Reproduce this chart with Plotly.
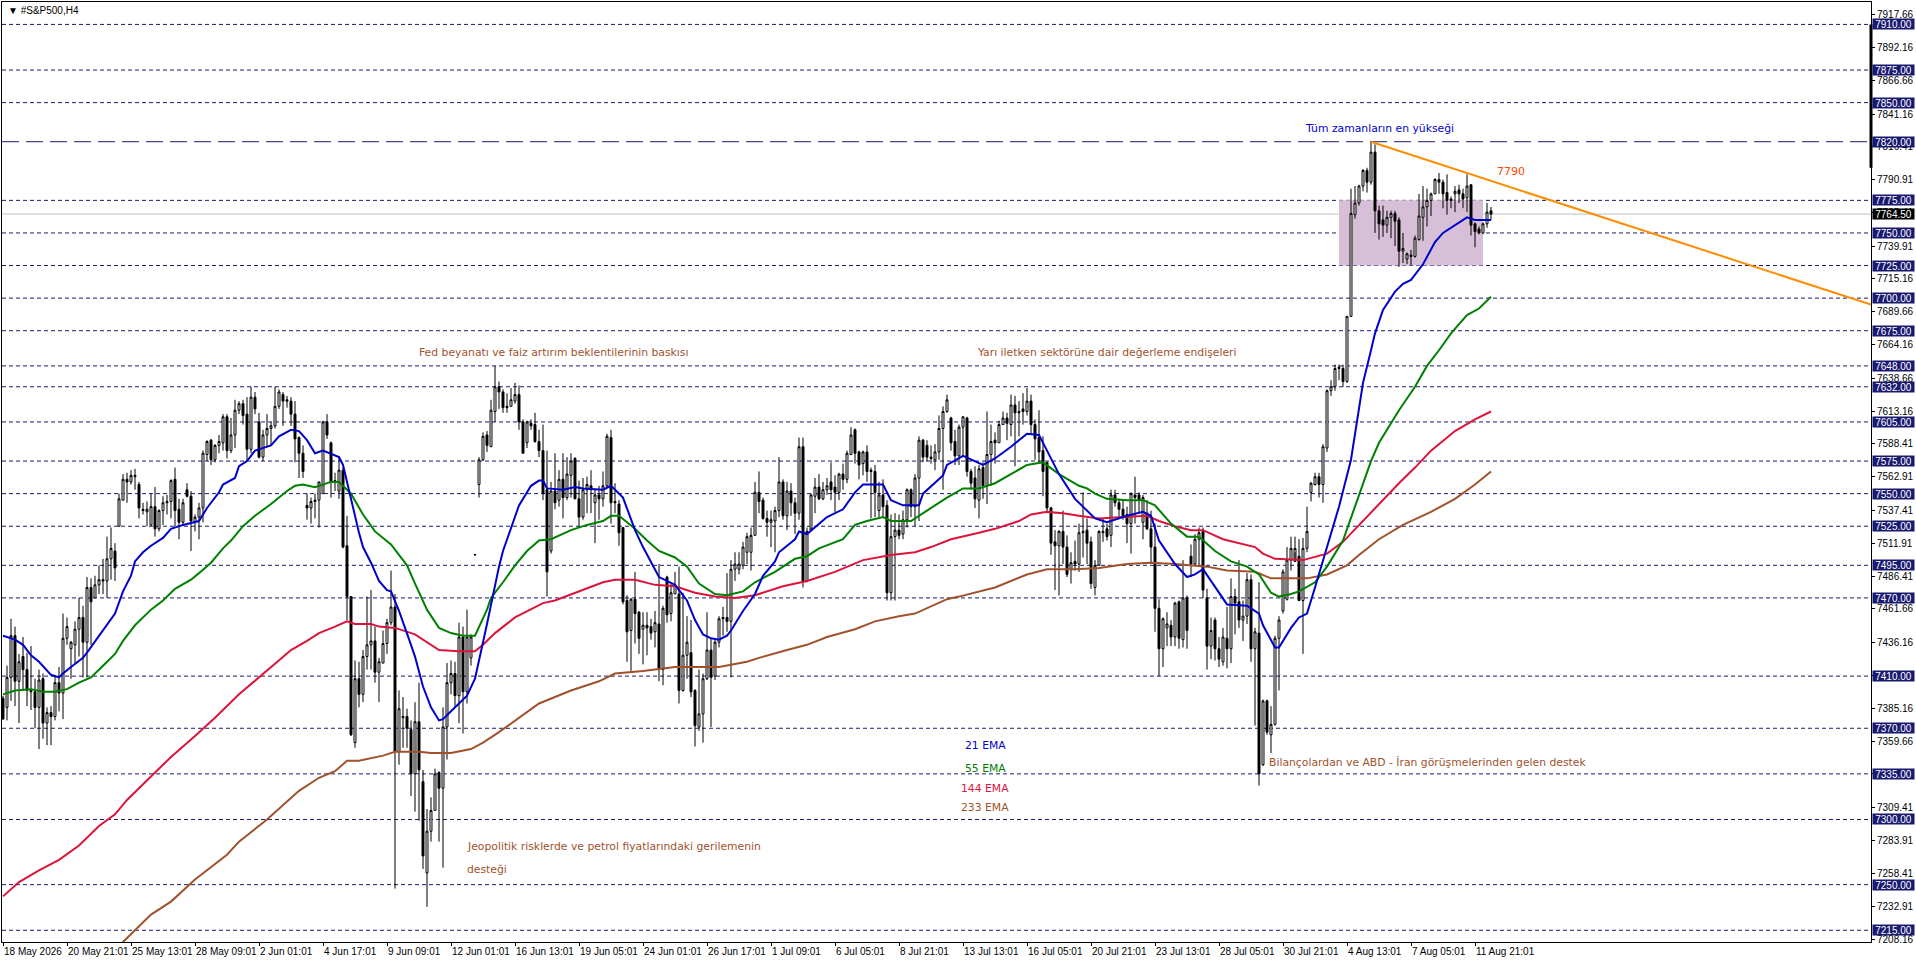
import plotly.graph_objs as go

# fiyat verisi (H4 mum)
open_ = [
    7393, 7386, 7409, 7441, 7406, 7425, 7415, 7399, 7398, 7386, 7408, 7374, 7382, 7379, 7405, 7397,
    7439, 7431, 7434, 7446, 7455, 7436, 7478, 7470, 7480, 7484, 7483, 7500, 7506, 7525, 7545, 7561,
    7559, 7563, 7557, 7538, 7536, 7526, 7540, 7523, 7537, 7543, 7544, 7561, 7538, 7528, 7553, 7548,
    7528, 7532, 7539, 7580, 7591, 7576, 7587, 7589, 7609, 7583, 7595, 7614, 7619, 7611, 7584, 7624,
    7605, 7578, 7595, 7600, 7602, 7617, 7626, 7622, 7621, 7611, 7593, 7581, 7541, 7539, 7544, 7545,
    7550, 7605, 7589, 7559, 7552, 7568, 7510, 7471, 7359, 7408, 7396, 7425, 7434, 7437, 7413, 7420,
    7435, 7451, 7463, 7352, 7378, 7379, 7369, 7335, 7375, 7329, 7259, 7291, 7307, 7336, 7324, 7371,
    7405, 7412, 7395, 7440, 7398, 7424, 7503, 7557, 7576, 7595, 7586, 7613, 7632, 7628, 7617, 7617,
    7621, 7626, 7605, 7589, 7604, 7603, 7590, 7583, 7553, 7506, 7552, 7545, 7561, 7547, 7564, 7577,
    7546, 7532, 7553, 7556, 7543, 7549, 7546, 7556, 7593, 7544, 7542, 7524, 7468, 7445, 7469, 7459,
    7446, 7449, 7448, 7444, 7450, 7415, 7486, 7458, 7473, 7473, 7399, 7426, 7428, 7399, 7371, 7381,
    7408, 7430, 7410, 7436, 7455, 7455, 7452, 7492, 7492, 7495, 7505, 7505, 7518, 7551, 7545, 7531,
    7528, 7529, 7537, 7559, 7533, 7552, 7543, 7535, 7586, 7483, 7522, 7548, 7555, 7546, 7553, 7559,
    7555, 7551, 7565, 7561, 7580, 7599, 7582, 7573, 7582, 7568, 7567, 7537, 7549, 7541, 7474, 7517,
    7522, 7519, 7530, 7553, 7540, 7562, 7591, 7587, 7577, 7576, 7582, 7600, 7613, 7608, 7590, 7579,
    7601, 7608, 7567, 7562, 7545, 7570, 7556, 7580, 7591, 7589, 7603, 7608, 7603, 7618, 7613, 7615,
    7613, 7621, 7603, 7593, 7583, 7574, 7539, 7513, 7510, 7521, 7509, 7492, 7498, 7496, 7520, 7522,
    7513, 7478, 7495, 7520, 7523, 7518, 7549, 7543, 7538, 7534, 7527, 7549, 7549, 7528, 7535, 7523,
    7509, 7462, 7431, 7447, 7449, 7440, 7467, 7438, 7470, 7502, 7496, 7515, 7521, 7470, 7433, 7453,
    7431, 7421, 7439, 7431, 7471, 7467, 7453, 7456, 7484, 7431, 7443, 7342, 7391, 7365, 7373, 7439,
    7460, 7469, 7499, 7498, 7502, 7468, 7508, 7551, 7557, 7563, 7557, 7585, 7629, 7632, 7647, 7646,
    7636, 7686, 7764, 7773, 7786, 7798, 7789, 7812, 7767, 7760, 7756, 7762, 7765, 7760, 7736, 7730,
    7733, 7732, 7745, 7762, 7770, 7775, 7780, 7791, 7789, 7781, 7776, 7780, 7783, 7780, 7777, 7787,
    7757, 7753, 7750, 7757, 7767,
]
high = [
    7395, 7418, 7454, 7448, 7427, 7440, 7428, 7433, 7408, 7415, 7412, 7386, 7387, 7411, 7417, 7458,
    7455, 7437, 7452, 7470, 7464, 7486, 7485, 7487, 7495, 7500, 7517, 7524, 7512, 7550, 7565, 7566,
    7568, 7569, 7559, 7543, 7544, 7550, 7555, 7538, 7548, 7549, 7561, 7570, 7546, 7546, 7558, 7552,
    7534, 7543, 7583, 7591, 7592, 7588, 7595, 7611, 7611, 7608, 7622, 7621, 7622, 7624, 7632, 7628,
    7612, 7599, 7611, 7605, 7632, 7630, 7628, 7625, 7624, 7621, 7594, 7587, 7550, 7547, 7550, 7559,
    7606, 7611, 7590, 7566, 7578, 7570, 7533, 7471, 7422, 7421, 7430, 7471, 7476, 7448, 7424, 7445,
    7454, 7491, 7473, 7399, 7394, 7385, 7376, 7390, 7405, 7338, 7308, 7317, 7339, 7337, 7386, 7420,
    7422, 7421, 7451, 7448, 7461, 7442, 7503.5, 7578, 7597, 7598, 7622, 7648, 7636, 7630, 7627, 7631,
    7635, 7633, 7607, 7606, 7607, 7612, 7599, 7603, 7583, 7559, 7581, 7568, 7581, 7578, 7581, 7578,
    7560, 7562, 7563, 7568, 7553, 7556, 7567, 7596, 7599, 7558, 7545, 7524, 7472, 7470, 7490, 7460,
    7459, 7459, 7454, 7460, 7496, 7464, 7487, 7482, 7490, 7494, 7474, 7456, 7453, 7400, 7415, 7412,
    7459, 7439, 7439, 7456, 7463, 7489, 7499, 7505, 7505, 7513, 7520, 7524, 7559, 7567, 7547, 7537,
    7537, 7540, 7578, 7561, 7559, 7558, 7547, 7593, 7593, 7524, 7550, 7562, 7565, 7559, 7562, 7574,
    7564, 7566, 7573, 7583, 7601, 7600, 7583, 7583, 7587, 7570, 7572, 7559, 7561, 7545, 7534, 7535,
    7534, 7537, 7554, 7554, 7565, 7594, 7592, 7591, 7587, 7588, 7610, 7617, 7626, 7609, 7599, 7603,
    7609, 7609, 7569, 7571, 7572, 7574, 7613, 7603, 7597, 7606, 7613, 7612, 7626, 7625, 7621, 7627,
    7631, 7626, 7607, 7614, 7594, 7574, 7540, 7522, 7522, 7537, 7518, 7505, 7514, 7527, 7551, 7531,
    7517, 7499, 7522, 7531, 7527, 7553, 7553, 7546, 7545, 7540, 7551, 7563, 7551, 7549, 7545, 7537,
    7527, 7469, 7455, 7459, 7453, 7467, 7468, 7499, 7472, 7511, 7519, 7524, 7524, 7477, 7455, 7455,
    7440, 7447, 7463, 7485, 7477, 7499, 7468, 7489, 7488, 7447, 7482, 7392, 7392, 7387, 7441, 7456,
    7492, 7509, 7517, 7517, 7515, 7516, 7540, 7559, 7566, 7566, 7588, 7630, 7637, 7649, 7649, 7649,
    7686, 7784, 7786, 7787, 7799, 7800, 7819.5, 7818, 7771, 7771, 7767, 7767, 7767, 7762, 7750, 7735,
    7737, 7748, 7780, 7786, 7784, 7781, 7792, 7796, 7791, 7795, 7778, 7786, 7787, 7784, 7795, 7787,
    7758, 7755, 7758, 7773, 7770,
]
low = [
    7377, 7376, 7391, 7387, 7374, 7399, 7387, 7384, 7370, 7354, 7362, 7357, 7357, 7376, 7383, 7377,
    7434, 7408, 7420, 7425, 7409, 7409, 7434, 7470, 7473, 7473, 7470, 7484, 7483, 7525, 7545, 7543,
    7557, 7553, 7531, 7534, 7525, 7525, 7517, 7521, 7526, 7534, 7531, 7525, 7515, 7525, 7547, 7506,
    7521, 7515, 7528, 7575, 7572, 7574, 7581, 7583, 7577, 7581, 7585, 7611, 7603, 7575, 7581, 7611,
    7577, 7575, 7586, 7587, 7600, 7615, 7602, 7616, 7602, 7574, 7562, 7562, 7530, 7527, 7531, 7524,
    7550, 7592, 7547, 7552, 7546, 7508, 7453, 7364, 7355, 7386, 7390, 7415, 7415, 7405, 7390, 7420,
    7427, 7449, 7247, 7342, 7355, 7355, 7318, 7306, 7299, 7262, 7233, 7283, 7307, 7283, 7263, 7346,
    7396, 7386, 7374, 7366, 7389, 7418, 7502.5, 7547, 7575, 7582, 7586, 7605, 7615, 7612, 7612, 7617,
    7619, 7599, 7581, 7585, 7599, 7589, 7578, 7545, 7471, 7504, 7538, 7540, 7531, 7545, 7547, 7546,
    7524, 7530, 7535, 7535, 7512, 7530, 7540, 7555, 7527, 7535, 7510, 7465, 7421, 7414, 7435, 7427,
    7419, 7426, 7438, 7432, 7406, 7403, 7451, 7452, 7473, 7389, 7398, 7408, 7394, 7356, 7368, 7359,
    7407, 7371, 7407, 7432, 7441, 7444, 7409, 7483, 7488, 7492, 7496, 7491, 7518, 7535, 7530, 7517,
    7509, 7505, 7532, 7530, 7522, 7533, 7519, 7530, 7478, 7482, 7524, 7535, 7545, 7545, 7549, 7545,
    7536, 7545, 7553, 7558, 7580, 7573, 7561, 7564, 7559, 7531, 7532, 7532, 7532, 7468, 7468, 7468,
    7515, 7515, 7524, 7532, 7525, 7529, 7574, 7575, 7573, 7568, 7576, 7553, 7612, 7583, 7572, 7572,
    7578, 7563, 7553, 7539, 7531, 7546, 7542, 7556, 7573, 7589, 7603, 7591, 7594, 7571, 7594, 7603,
    7610, 7596, 7576, 7574, 7548, 7535, 7503, 7476, 7472, 7496, 7486, 7481, 7491, 7490, 7501, 7496,
    7477, 7472, 7495, 7513, 7514, 7509, 7540, 7532, 7530, 7512, 7504, 7527, 7535, 7515, 7522, 7496,
    7444, 7410, 7417, 7433, 7433, 7433, 7431, 7432, 7431, 7486, 7495, 7494, 7470, 7415, 7423, 7422,
    7417, 7418, 7416, 7420, 7442, 7447, 7437, 7450, 7421, 7372, 7326, 7341, 7365, 7351, 7372, 7399,
    7458, 7468, 7491, 7505, 7468, 7427, 7505, 7544, 7556, 7547, 7543, 7582, 7625, 7629, 7637, 7632,
    7635, 7686, 7761, 7771, 7782, 7781, 7787, 7750, 7745, 7747, 7750, 7746, 7740, 7724, 7727, 7726,
    7725, 7731, 7744, 7744, 7755, 7763, 7780, 7780, 7769, 7764, 7769, 7766, 7773, 7769, 7766, 7748,
    7739, 7749, 7749, 7754, 7760,
]
close = [
    7377, 7409, 7441, 7406, 7421, 7415, 7399, 7398, 7386, 7407, 7374, 7382, 7379, 7405, 7397, 7439,
    7448, 7436, 7446, 7455, 7436, 7478, 7467, 7480, 7484, 7483, 7500, 7508, 7493, 7546, 7561, 7559,
    7564, 7564, 7539, 7537, 7538, 7540, 7523, 7537, 7543, 7544, 7560, 7537, 7528, 7543, 7548, 7529,
    7532, 7539, 7581, 7590, 7576, 7587, 7590, 7609, 7583, 7595, 7614, 7619, 7610, 7584, 7624, 7615,
    7578, 7595, 7600, 7602, 7617, 7628, 7621, 7621, 7611, 7592, 7581, 7567, 7539, 7544, 7545, 7559,
    7605, 7595, 7559, 7560, 7568, 7509, 7471, 7365, 7408, 7396, 7425, 7434, 7437, 7413, 7421, 7435,
    7451, 7463, 7352, 7385, 7379, 7370, 7335, 7375, 7338, 7272, 7291, 7307, 7335, 7324, 7371, 7405,
    7412, 7395, 7440, 7398, 7440, 7440, 7503.2, 7576, 7594, 7587, 7614, 7632, 7628, 7616, 7616, 7622,
    7626, 7605, 7581, 7605, 7602, 7590, 7583, 7550, 7490, 7552, 7543, 7561, 7547, 7565, 7575, 7546,
    7532, 7553, 7557, 7553, 7549, 7546, 7556, 7594, 7543, 7543, 7520, 7467, 7444, 7469, 7458, 7439,
    7449, 7447, 7443, 7451, 7415, 7462, 7457, 7474, 7480, 7399, 7426, 7436, 7398, 7372, 7381, 7408,
    7430, 7409, 7436, 7454, 7454, 7452, 7492, 7496, 7496, 7509, 7517, 7518, 7551, 7544, 7531, 7528,
    7530, 7537, 7559, 7533, 7552, 7543, 7535, 7586, 7483, 7521, 7549, 7555, 7546, 7553, 7556, 7553,
    7551, 7565, 7561, 7581, 7595, 7581, 7572, 7582, 7567, 7567, 7551, 7549, 7540, 7474, 7517, 7522,
    7518, 7530, 7553, 7540, 7562, 7591, 7578, 7578, 7578, 7582, 7600, 7613, 7622, 7589, 7579, 7601,
    7609, 7567, 7558, 7546, 7569, 7556, 7580, 7590, 7589, 7603, 7608, 7604, 7618, 7612, 7612, 7613,
    7621, 7603, 7592, 7582, 7567, 7539, 7512, 7510, 7521, 7509, 7488, 7497, 7496, 7520, 7521, 7512,
    7481, 7495, 7521, 7521, 7517, 7549, 7543, 7538, 7533, 7527, 7550, 7547, 7545, 7547, 7523, 7509,
    7462, 7431, 7454, 7450, 7440, 7466, 7439, 7470, 7445, 7496, 7515, 7520, 7476, 7433, 7445, 7431,
    7423, 7440, 7431, 7471, 7466, 7453, 7456, 7484, 7431, 7444, 7335, 7391, 7367, 7373, 7439, 7453,
    7490, 7499, 7508, 7508, 7468, 7508, 7521, 7558, 7563, 7557, 7586, 7629, 7632, 7646, 7646, 7636,
    7686, 7765, 7773, 7786, 7798, 7789, 7812, 7767, 7757, 7756, 7762, 7765, 7759, 7736, 7738, 7734,
    7732, 7746, 7763, 7770, 7775, 7780, 7791, 7789, 7780, 7775, 7775, 7782, 7780, 7776, 7786, 7756,
    7751, 7750, 7757, 7766, 7764.5,
]

# hareketli ortalamalar, okunan noktalar (mum sirasi, deger)
ema21_i = [0, 3, 5, 7, 9, 12, 14, 15, 17, 20, 21, 25, 28, 30, 32, 33, 35, 37, 40, 42, 45, 49, 51, 54, 55, 58,
           59, 61, 63, 67, 69, 72, 74, 76, 78, 80, 84, 85, 86, 87, 88, 89, 90, 92, 94, 96, 97, 99, 102, 103,
           105, 107, 109, 110, 112, 114, 116, 118, 119, 120, 121, 122, 123, 124, 125, 127, 129, 132, 134, 135,
           136, 140, 143, 145, 150, 152, 155, 158, 160, 164, 168, 171, 173, 175, 177, 179, 181, 182, 185, 188,
           190, 193, 194, 198, 199, 201, 206, 210, 213, 215, 220, 222, 225, 229, 230, 235, 236, 240, 243, 245,
           248, 252, 256, 259, 261, 264, 268, 270, 273, 276, 281, 285, 287, 289, 293, 296, 298, 300, 303, 306,
           311, 314, 315, 318, 319, 322, 324, 326, 328, 331, 334, 337, 339, 340, 342, 343, 345, 348, 350, 352,
           355, 358, 360, 364, 366, 368, 372]
ema21 = [7441, 7438, 7434, 7426, 7421, 7411, 7409, 7412, 7417, 7424, 7428, 7445, 7458, 7475, 7487, 7498, 7505,
         7510, 7516, 7523, 7526, 7529, 7539, 7551, 7557, 7562, 7571, 7575, 7583, 7587, 7594, 7599, 7598, 7591,
         7581, 7583, 7578, 7572, 7559, 7545, 7531, 7520, 7509, 7497, 7483, 7476, 7475, 7460, 7434, 7425, 7402,
         7386, 7376, 7377, 7383, 7389, 7395, 7408, 7421, 7436, 7450, 7465, 7481, 7494, 7506, 7524, 7541, 7556,
         7560, 7560, 7554, 7553, 7555, 7554, 7553, 7556, 7547, 7522, 7509, 7486, 7480, 7468, 7453, 7442, 7439,
         7438, 7441, 7445, 7460, 7473, 7487, 7498, 7505, 7515, 7521, 7519, 7532, 7538, 7551, 7557, 7557, 7545,
         7541, 7541, 7550, 7564, 7572, 7579, 7575, 7572, 7577, 7586, 7596, 7595, 7583, 7565, 7546, 7540, 7531,
         7528, 7533, 7536, 7533, 7514, 7496, 7486, 7488, 7492, 7478, 7465, 7464, 7458, 7449, 7432, 7432, 7447,
         7455, 7458, 7478, 7509, 7540, 7576, 7614, 7635, 7660, 7673, 7691, 7705, 7711, 7714, 7726, 7743, 7750,
         7758, 7762, 7760, 7760]

ema55_i = [0, 3, 7, 10, 13, 16, 19, 22, 25, 28, 30, 33, 37, 40, 43, 47, 49, 52, 55, 57, 60, 63, 67, 71, 73, 75,
           78, 82, 84, 87, 90, 93, 97, 101, 103, 106, 109, 112, 115, 118, 121, 122, 125, 128, 131, 134, 137, 142,
           146, 150, 152, 154, 158, 161, 164, 168, 171, 174, 178, 181, 185, 188, 193, 198, 201, 204, 210, 213,
           216, 220, 222, 227, 231, 236, 240, 244, 248, 252, 256, 260, 264, 269, 271, 273, 276, 281, 285, 288,
           292, 296, 299, 303, 307, 311, 314, 317, 319, 322, 324, 328, 331, 335, 339, 342, 344, 347, 349, 353,
           356, 359, 362, 366, 369, 372]
ema55 = [7396, 7399, 7400, 7398, 7398, 7400, 7405, 7409, 7418, 7427, 7437, 7449, 7461, 7468, 7477, 7484, 7489,
         7497, 7508, 7514, 7525, 7533, 7542, 7552, 7556, 7557, 7555, 7559, 7559, 7550, 7534, 7521, 7511, 7495,
         7481, 7461, 7447, 7443, 7441, 7441, 7461, 7470, 7482, 7495, 7506, 7514, 7515, 7522, 7526, 7529, 7533,
         7533, 7523, 7514, 7506, 7501, 7494, 7481, 7473, 7472, 7475, 7482, 7490, 7500, 7502, 7508, 7515, 7526,
         7529, 7532, 7529, 7529, 7537, 7547, 7554, 7554, 7558, 7565, 7572, 7574, 7565, 7556, 7554, 7550, 7546,
         7545, 7545, 7541, 7527, 7517, 7517, 7506, 7498, 7494, 7488, 7474, 7471, 7473, 7475, 7482, 7494, 7514,
         7549, 7575, 7589, 7604, 7614, 7632, 7648, 7660, 7673, 7687, 7692, 7701]

ema144_i = [0, 4, 9, 14, 19, 24, 28, 31, 37, 42, 48, 53, 59, 64, 68, 72, 76, 79, 83, 86, 88, 92, 94, 98, 103, 107,
            109, 114, 118, 120, 123, 128, 135, 138, 143, 147, 150, 153, 158, 163, 168, 173, 178, 183, 188, 195,
            201, 208, 215, 222, 228, 232, 237, 244, 248, 254, 257, 261, 265, 269, 274, 280, 286, 289, 293, 297,
            300, 305, 313, 315, 318, 325, 331, 335, 339, 342, 345, 349, 353, 357, 363, 368, 372]
ema144 = [7241, 7252, 7261, 7269, 7280, 7295, 7304, 7315, 7333, 7348, 7364, 7378, 7396, 7409, 7420, 7430, 7437,
          7443, 7448, 7452, 7450, 7450, 7448, 7447, 7442, 7434, 7430, 7429, 7429, 7434, 7443, 7455, 7466, 7468,
          7474, 7479, 7482, 7484, 7484, 7480, 7479, 7474, 7471, 7470, 7472, 7479, 7483, 7490, 7499, 7503, 7505,
          7509, 7515, 7520, 7523, 7529, 7534, 7536, 7535, 7533, 7531, 7532, 7533, 7529, 7525, 7522, 7522, 7515,
          7509, 7504, 7500, 7499, 7504, 7513, 7526, 7536, 7545, 7558, 7570, 7583, 7598, 7607, 7613]

ema233_i = [29, 37, 42, 48, 56, 59, 66, 71, 74, 79, 83, 86, 89, 95, 98, 104, 107, 112, 117, 120, 124, 134, 142,
            149, 153, 160, 168, 174, 179, 186, 189, 196, 201, 206, 213, 218, 224, 228, 236, 239, 248, 256, 261,
            268, 274, 281, 287, 293, 301, 306, 313, 317, 326, 331, 336, 339, 344, 350, 357, 363, 368, 372]
ema233 = [7203, 7227, 7237, 7254, 7273, 7283, 7300, 7314, 7322, 7332, 7337, 7345, 7345, 7349, 7352, 7352, 7351,
          7351, 7354, 7359, 7367, 7389, 7399, 7406, 7412, 7414, 7417, 7417, 7417, 7421, 7424, 7430, 7434, 7440,
          7446, 7452, 7456, 7458, 7469, 7471, 7478, 7488, 7492, 7492, 7493, 7496, 7497, 7496, 7494, 7491, 7490,
          7485, 7485, 7488, 7495, 7503, 7515, 7526, 7536, 7546, 7557, 7567]

# yatay seviyeler ve etiketler
levels = [7910, 7875, 7850, 7775, 7750, 7725, 7700, 7675, 7648, 7632, 7605, 7575, 7550, 7525, 7495, 7470,
          7410, 7370, 7335, 7300, 7250, 7215]
ath_level = 7820
last_price = 7764.50
trend_i = [342, 467]
trend_y = [7820, 7695]

tick_prices = [7917.66, 7892.16, 7866.66, 7841.16, 7816.41, 7790.91, 7765.41, 7739.91, 7715.16, 7689.66,
               7664.16, 7638.66, 7613.16, 7588.41, 7562.91, 7537.41, 7511.91, 7486.41, 7461.66, 7436.16,
               7410.66, 7385.16, 7359.66, 7334.91, 7309.41, 7283.91, 7258.41, 7232.91, 7208.16]
date_labels = ['18 May 2026', '20 May 21:01', '25 May 13:01', '28 May 09:01', '2 Jun 01:01', '4 Jun 17:01',
               '9 Jun 09:01', '12 Jun 01:01', '16 Jun 13:01', '19 Jun 05:01', '24 Jun 01:01', '26 Jun 17:01',
               '1 Jul 09:01', '6 Jul 05:01', '8 Jul 21:01', '13 Jul 13:01', '16 Jul 05:01', '20 Jul 21:01',
               '23 Jul 13:01', '28 Jul 05:01', '30 Jul 21:01', '4 Aug 13:01', '7 Aug 05:01', '11 Aug 21:01']

NAVY = '#191970'
BROWN = '#A0522D'
FONT = 'Liberation Sans'

fig = go.Figure()

fig.add_trace(go.Candlestick(x=list(range(len(open_))), open=open_, high=high, low=low, close=close,
                             increasing=dict(line=dict(color='black', width=1), fillcolor='white'),
                             decreasing=dict(line=dict(color='black', width=1), fillcolor='black'),
                             whiskerwidth=0, showlegend=False))

for xs, ys, col in [(ema233_i, ema233, BROWN), (ema144_i, ema144, '#DC143C'),
                    (ema55_i, ema55, 'green'), (ema21_i, ema21, '#0000CD')]:
    fig.add_trace(go.Scatter(x=xs, y=ys, mode='lines', line=dict(color=col, width=2), showlegend=False))

fig.add_trace(go.Scatter(x=trend_i, y=trend_y, mode='lines', line=dict(color='#FF8C00', width=2),
                         showlegend=False))

# mor kutu
fig.add_shape(type='rect', x0=334, x1=370, y0=7725, y1=7775, layer='below', line_width=0, fillcolor='#D8BFD8')


def price_box(y, color):
    fig.add_annotation(xref='paper', x=1.0005, y=y, xanchor='left', text=f'{y:.2f}', showarrow=False,
                       bgcolor=color, width=41, height=10, borderpad=0,
                       font=dict(family=FONT, size=10, color='white'))


# seviye cizgileri
for lv in levels:
    fig.add_shape(type='line', xref='paper', x0=0, x1=1, y0=lv, y1=lv, layer='below',
                  line=dict(color=NAVY, width=1, dash='4px,3px'))
    price_box(lv, NAVY)
fig.add_shape(type='line', xref='paper', x0=0, x1=1, y0=ath_level, y1=ath_level, layer='below',
              line=dict(color=NAVY, width=1, dash='17px,7px'))
price_box(ath_level, NAVY)
fig.add_shape(type='line', xref='paper', x0=0, x1=1, y0=last_price, y1=last_price, layer='below',
              line=dict(color='#C0C0C0', width=1))
price_box(last_price, 'black')
# sag eksende kalin bolum
fig.add_shape(type='line', xref='paper', x0=1, x1=1, y0=7800, y1=7910, line=dict(color='black', width=3))


def note(x, y, text, color, size=10.8):
    fig.add_annotation(x=x, y=y, text=text, showarrow=False, xanchor='left',
                       font=dict(family='DejaVu Sans', size=size, color=color))


note(103.5, 7658.5, 'Fed beyanatı ve faiz artırım beklentilerinin baskısı', BROWN)
note(243, 7658.5, 'Yarı iletken sektörüne dair değerleme endişeleri', BROWN)
note(325, 7830, 'Tüm zamanların en yükseği', '#0000CD')
note(373, 7797.5, '7790', '#FF4500', 11)
note(115.5, 7279, 'Jeopolitik risklerde ve petrol fiyatlarındaki gerilemenin', BROWN)
note(115.5, 7261.5, 'desteği', BROWN)
note(316, 7344, 'Bilançolardan ve ABD - İran görüşmelerinden gelen destek', BROWN)
note(240, 7356.5, '21 EMA', '#0000CD')
note(240, 7339.5, '55 EMA', 'green')
note(239, 7323.5, '144 EMA', '#DC143C')
note(239, 7309, '233 EMA', BROWN)

fig.add_annotation(xref='paper', yref='paper', x=0.002, y=0.999, xanchor='left', yanchor='top',
                   text='▼ #S&P500,H4', showarrow=False, font=dict(family=FONT, size=10, color='black'))

fig.update_layout(
    width=1916, height=963, margin=dict(l=2, r=45, t=2, b=21),
    paper_bgcolor='white', plot_bgcolor='white', hovermode=False,
    xaxis=dict(range=[-0.25, 467], rangeslider_visible=False, showgrid=False, zeroline=False,
               tickmode='array', tickvals=[16 * k for k in range(len(date_labels))], ticktext=date_labels,
               tickangle=0, ticks='outside', ticklen=3, tickcolor='black', ticklabelposition='outside right',
               showline=True, linecolor='black', mirror=True, linewidth=1,
               tickfont=dict(family=FONT, size=10, color='black')),
    yaxis=dict(range=[7206, 7927.2], side='right', showgrid=False, zeroline=False,
               tickmode='array', tickvals=tick_prices, ticktext=[f'{p:.2f}' for p in tick_prices],
               ticks='outside', ticklen=3, tickcolor='black', showline=True, linecolor='black',
               mirror=True, linewidth=1, tickfont=dict(family=FONT, size=10, color='black')),
)

fig.write_html("out.html", config=dict(displayModeBar=False), post_script="document.body.style.margin='0';")
